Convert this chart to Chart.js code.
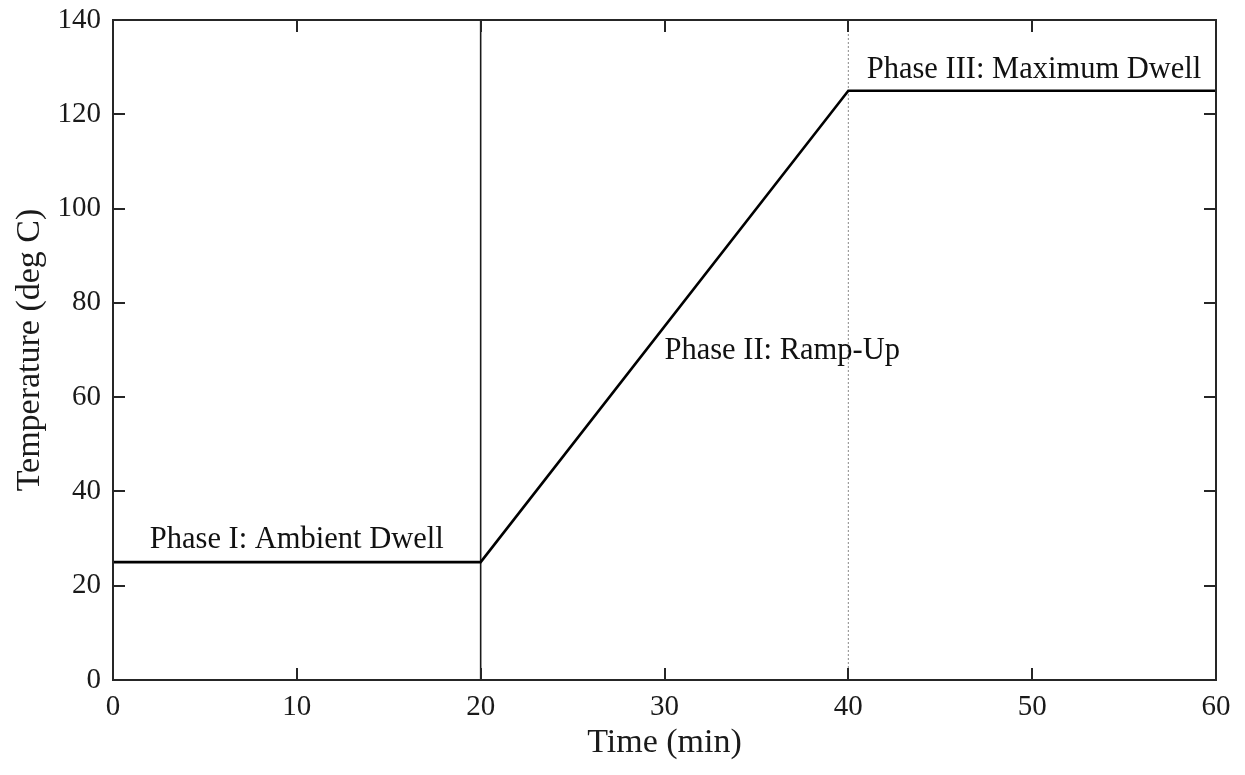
<!DOCTYPE html>
<html>
<head>
<meta charset="utf-8">
<title>Temperature profile</title>
<script src="https://cdn.jsdelivr.net/npm/chart.js@4/dist/chart.umd.min.js"></script>
<style>
  html, body { margin: 0; padding: 0; background: #ffffff; }
  #wrap { width: 1245px; height: 775px; position: relative; }
</style>
</head>
<body>
<div id="wrap"><canvas id="chart" width="1245" height="775"></canvas></div>
<script>
// Temperature profile: time (min) vs. temperature (deg C)
const timeMin = [0, 20, 40, 60];
const tempC = [25, 25, 125, 125];

// Phase boundaries (min)
const boundaryTimes = [20, 40];

// Axis ticks
const xTicks = [0, 10, 20, 30, 40, 50, 60];
const yTicks = [0, 20, 40, 60, 80, 100, 120, 140];

// Phase annotations: text with anchor in data units (left edge, baseline)
const phaseLabels = ['Phase I: Ambient Dwell', 'Phase II: Ramp-Up', 'Phase III: Maximum Dwell'];
const phaseLabelTime = [2, 30, 41];
const phaseLabelTemp = [28, 68.1, 127.7];

const FONT = "'Liberation Serif', 'Times New Roman', serif";
const AXIS_COLOR = '#262626';

// Box frame with inward tick marks on all four sides
const boxTicksPlugin = {
  id: 'boxTicks',
  afterDatasetsDraw(chart) {
    const { ctx, chartArea: a, scales: { x, y } } = chart;
    const len = 12;
    ctx.save();
    ctx.strokeStyle = AXIS_COLOR;
    ctx.lineWidth = 2;
    ctx.beginPath();
    xTicks.forEach(v => {
      const px = Math.round(x.getPixelForValue(v));
      ctx.moveTo(px, a.bottom); ctx.lineTo(px, a.bottom - len);
      ctx.moveTo(px, a.top); ctx.lineTo(px, a.top + len);
    });
    yTicks.forEach(v => {
      const py = Math.round(y.getPixelForValue(v));
      ctx.moveTo(a.left, py); ctx.lineTo(a.left + len, py);
      ctx.moveTo(a.right, py); ctx.lineTo(a.right - len, py);
    });
    ctx.stroke();
    ctx.strokeRect(a.left, a.top, a.right - a.left, a.bottom - a.top);
    ctx.restore();
  }
};

// Phase text labels placed through the scales
const phaseTextPlugin = {
  id: 'phaseText',
  afterDatasetsDraw(chart) {
    const { ctx, scales: { x, y } } = chart;
    ctx.save();
    ctx.font = '30.5px ' + FONT;
    ctx.fillStyle = '#111111';
    ctx.textAlign = 'left';
    ctx.textBaseline = 'alphabetic';
    phaseLabels.forEach((t, i) => {
      ctx.fillText(t, x.getPixelForValue(phaseLabelTime[i]), y.getPixelForValue(phaseLabelTemp[i]));
    });
    ctx.restore();
  }
};

const whiteBg = {
  id: 'whiteBg',
  beforeDraw(chart) {
    const { ctx, width, height } = chart;
    ctx.save();
    ctx.fillStyle = '#ffffff';
    ctx.fillRect(0, 0, width, height);
    ctx.restore();
  }
};

const profilePoints = timeMin.map((t, i) => ({ x: t, y: tempC[i] }));
const yMin = yTicks[0], yMax = yTicks[yTicks.length - 1];

new Chart(document.getElementById('chart'), {
  type: 'scatter',
  data: {
    datasets: [
      {
        label: 'Phase I/II boundary',
        data: [{ x: boundaryTimes[0], y: yMin }, { x: boundaryTimes[0], y: yMax }],
        showLine: true,
        borderColor: '#1a1a1a',
        borderWidth: 1.6,
        pointRadius: 0,
        order: 3
      },
      {
        label: 'Phase II/III boundary',
        data: [{ x: boundaryTimes[1], y: yMin }, { x: boundaryTimes[1], y: yMax }],
        showLine: true,
        borderColor: '#8a8a8a',
        borderWidth: 1,
        borderDash: [2, 2],
        pointRadius: 0,
        order: 2
      },
      {
        label: 'Temperature',
        data: profilePoints,
        showLine: true,
        borderColor: '#000000',
        borderWidth: 2.6,
        pointRadius: 0,
        tension: 0,
        order: 1
      }
    ]
  },
  options: {
    responsive: false,
    animation: false,
    devicePixelRatio: 1,
    layout: { padding: { top: 20, right: 29, left: 0, bottom: 0 } },
    plugins: {
      legend: { display: false },
      tooltip: { enabled: false }
    },
    scales: {
      x: {
        type: 'linear',
        min: xTicks[0],
        max: xTicks[xTicks.length - 1],
        afterBuildTicks: s => { s.ticks = xTicks.map(v => ({ value: v })); },
        afterFit: s => { s.height = 95; s.paddingLeft = 0; s.paddingRight = 0; },
        grid: { display: false, drawTicks: false },
        border: { display: false },
        ticks: {
          color: '#1a1a1a',
          font: { family: FONT, size: 29 },
          padding: 10,
          maxRotation: 0
        },
        title: {
          display: true,
          text: 'Time (min)',
          color: '#1a1a1a',
          font: { family: FONT, size: 34 },
          padding: { top: 12, bottom: 12 }
        }
      },
      y: {
        type: 'linear',
        min: yMin,
        max: yMax,
        afterBuildTicks: s => { s.ticks = yTicks.map(v => ({ value: v })); },
        afterFit: s => { s.width = 113; s.paddingTop = 0; s.paddingBottom = 0; },
        grid: { display: false, drawTicks: false },
        border: { display: false },
        ticks: {
          color: '#1a1a1a',
          font: { family: FONT, size: 29 },
          padding: 12
        },
        title: {
          display: true,
          text: 'Temperature (deg C)',
          color: '#1a1a1a',
          font: { family: FONT, size: 34 },
          padding: { top: 10, bottom: 10 }
        }
      }
    }
  },
  plugins: [whiteBg, boxTicksPlugin, phaseTextPlugin]
});
</script>
</body>
</html>
